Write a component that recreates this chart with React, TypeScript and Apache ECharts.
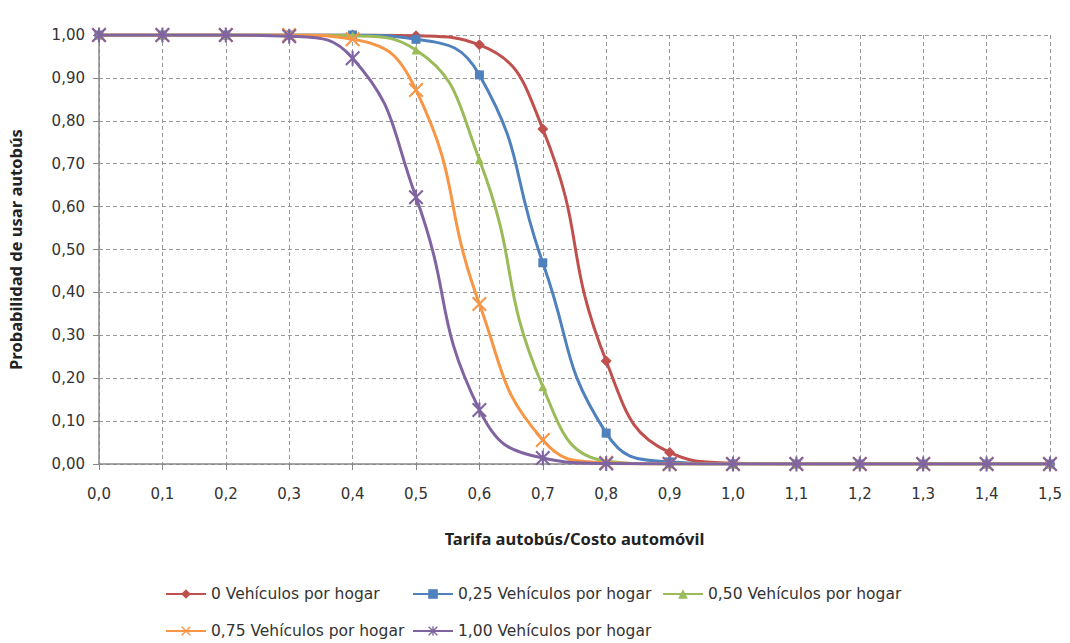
import React, { useEffect, useRef } from "react";
import * as echarts from "echarts";

const xValues = [0, 0.1, 0.2, 0.3, 0.4, 0.5, 0.6, 0.7, 0.8, 0.9, 1.0, 1.1, 1.2, 1.3, 1.4, 1.5];
const seriesNames = [
  "0 Vehículos por hogar",
  "0,25 Vehículos por hogar",
  "0,50 Vehículos por hogar",
  "0,75 Vehículos por hogar",
  "1,00 Vehículos por hogar",
];
const v0 = [1, 1, 1, 1, 1, 0.998, 0.977, 0.781, 0.24, 0.027, 0.002, 0, 0, 0, 0, 0];
const v25 = [1, 1, 1, 1, 1, 0.99, 0.907, 0.469, 0.072, 0.005, 0, 0, 0, 0, 0, 0];
const v50 = [1, 1, 1, 1, 0.998, 0.965, 0.709, 0.18, 0.007, 0, 0, 0, 0, 0, 0, 0];
const v75 = [1, 1, 1, 1, 0.99, 0.872, 0.373, 0.056, 0.003, 0, 0, 0, 0, 0, 0, 0];
const v100 = [1, 1, 1, 0.997, 0.946, 0.622, 0.126, 0.014, 0.001, 0, 0, 0, 0, 0, 0, 0];
const colors = ["#C0504D", "#4F81BD", "#9BBB59", "#F79646", "#8064A2"];

const xMark = "path://M0,1 L1,0 L5,4 L9,0 L10,1 L6,5 L10,9 L9,10 L5,6 L1,10 L0,9 L4,5 Z";
const starMark =
  "path://M0,1 L1,0 L5,4 L9,0 L10,1 L6,5 L10,9 L9,10 L5,6 L1,10 L0,9 L4,5 Z M4.3,0 L5.7,0 L5.7,10 L4.3,10 Z";

export default function App() {
  const ref = useRef<HTMLDivElement>(null);
  useEffect(() => {
    const chart = echarts.init(ref.current!, undefined, { renderer: "svg" });
    const allData = [v0, v25, v50, v75, v100];
    const symbols = ["diamond", "rect", "triangle", xMark, starMark];
    const sizes = [11, 9, 9, 15, 15];
    const labelFont = "DejaVu Sans";
    const titleFont = "Noto Sans";
    const series = allData.map((d, i) => ({
      name: seriesNames[i],
      type: "line",
      smooth: 0.5,
      data: d.map((y, j) => [xValues[j], y]),
      symbol: symbols[i],
      symbolSize: sizes[i],
      showAllSymbol: true,
      lineStyle: { color: colors[i], width: 3 },
      itemStyle: { color: colors[i] },
      z: 2 + i,
    }));
    const legendPos = [
      { left: 165, top: 586 },
      { left: 412, top: 586 },
      { left: 662, top: 586 },
      { left: 165, top: 623 },
      { left: 412, top: 623 },
    ];
    const legends = seriesNames.map((n, i) => ({
      data: [n],
      left: legendPos[i].left,
      top: legendPos[i].top,
      itemWidth: 40,
      itemHeight: 12,
      itemGap: 6,
      padding: 0,
      textStyle: { fontFamily: labelFont, fontSize: 15.5, color: "#333" },
      selectedMode: false,
    }));
    chart.setOption({
      animation: false,
      backgroundColor: "#fff",
      color: colors,
      legend: legends,
      grid: { left: 99, right: 20, top: 35, bottom: 179, outerBoundsMode: "none", containLabel: false },
      xAxis: {
        type: "value",
        min: 0,
        max: 1.5,
        interval: 0.1,
        name: "Tarifa autobús/Costo automóvil",
        nameLocation: "middle",
        nameGap: 66,
        nameTextStyle: { fontFamily: titleFont, fontSize: 16.5, fontWeight: "bold", color: "#222" },
        axisLine: { lineStyle: { color: "#888", width: 1.5 } },
        axisTick: { show: true, length: 6, lineStyle: { color: "#888" } },
        axisLabel: {
          margin: 22,
          fontFamily: labelFont,
          fontSize: 15,
          color: "#333",
          formatter: (v: number) => v.toFixed(1).replace(".", ","),
        },
        splitLine: { show: true, lineStyle: { color: "#999", type: [4, 3], width: 1 } },
      },
      yAxis: {
        type: "value",
        min: 0,
        max: 1,
        interval: 0.1,
        name: "Probabilidad de usar autobús",
        nameLocation: "middle",
        nameGap: 75,
        nameRotate: 90,
        nameTextStyle: { fontFamily: titleFont, fontSize: 16.5, fontWeight: "bold", color: "#222" },
        axisLine: { show: true, lineStyle: { color: "#888", width: 1.5 } },
        axisTick: { show: true, length: 6, lineStyle: { color: "#888" } },
        axisLabel: {
          margin: 14,
          fontFamily: labelFont,
          fontSize: 15,
          color: "#333",
          formatter: (v: number) => v.toFixed(2).replace(".", ","),
        },
        splitLine: { show: true, lineStyle: { color: "#999", type: [4, 3], width: 1 } },
      },
      series,
    });
    return () => chart.dispose();
  }, []);
  return <div ref={ref} style={{ width: 1070, height: 643, position: "absolute", left: 0, top: 0 }} />;
}
